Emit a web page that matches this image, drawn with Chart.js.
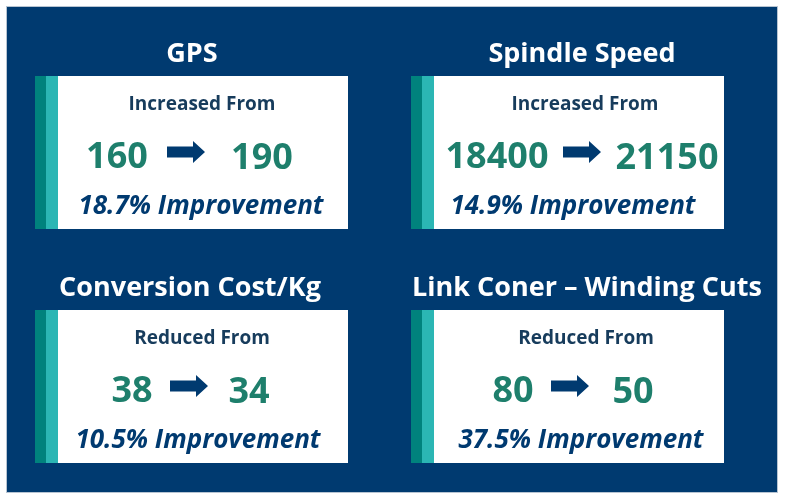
<!DOCTYPE html>
<html>
<head>
<meta charset="utf-8">
<script src="https://cdn.jsdelivr.net/npm/chart.js@4.4.0/dist/chart.umd.min.js"></script>
<style>
  html, body { margin: 0; padding: 0; background: #fff; }
  canvas { display: block; }
</style>
</head>
<body>
<canvas id="kpi" width="785" height="499"></canvas>
<script>
// values
const titles = ['GPS', 'Spindle Speed', 'Conversion Cost/Kg', 'Link Coner \u2013 Winding Cuts'];
const directions = ['Increased From', 'Increased From', 'Reduced From', 'Reduced From'];
const fromValues = [160, 18400, 38, 80];
const toValues = [190, 21150, 34, 50];
const improvements = [18.7, 14.9, 10.5, 37.5];

// card layout (page units), kept apart from the data
const cardBoxes = [
    { left: 35, top: 76 },
    { left: 411, top: 76 },
    { left: 35, top: 310 },
    { left: 411, top: 310 }
];
const cardW = 313, cardH = 153;
// horizontal centres inside each card, offset from card.left
const offsets = [
    { title: 157, sub: 167, from: 82, arrow: 151, to: 227, imp: 166 },
    { title: 171, sub: 174, from: 86, arrow: 171, to: 256, imp: 162 },
    { title: 155, sub: 167, from: 97, arrow: 154, to: 214, imp: 163 },
    { title: 176, sub: 175, from: 102, arrow: 159, to: 222, imp: 170 }
];

const NAVY = '#003a70';
const DARK_TEAL = '#00827d';
const LIGHT_TEAL = '#2bb6b4';
const NUM_GREEN = '#1e7f6c';
const SUB_TEXT = '#173c5c';
const FONT = "'Open Sans', 'Noto Sans', sans-serif";

const cardsPlugin = {
    id: 'cards',
    beforeDraw(chart) {
        const { ctx, scales: { x, y } } = chart;
        const px = v => x.getPixelForValue(v);
        const py = v => y.getPixelForValue(v);

        ctx.save();
        // navy panel
        ctx.fillStyle = NAVY;
        ctx.fillRect(px(7), py(7), px(777) - px(7), py(492) - py(7));
        ctx.strokeStyle = '#b7c4d2';
        ctx.lineWidth = 1;
        ctx.strokeRect(px(6.5), py(6.5), px(777.5) - px(6.5), py(492.5) - py(6.5));

        titles.forEach((title, i) => {
            const L = cardBoxes[i].left, T = cardBoxes[i].top, o = offsets[i];

            // white card + stripes
            ctx.fillStyle = '#ffffff';
            ctx.fillRect(px(L), py(T), px(L + cardW) - px(L), py(T + cardH) - py(T));
            ctx.fillStyle = DARK_TEAL;
            ctx.fillRect(px(L), py(T), px(L + 11) - px(L), py(T + cardH) - py(T));
            ctx.fillStyle = LIGHT_TEAL;
            ctx.fillRect(px(L + 11), py(T), px(L + 23) - px(L + 11), py(T + cardH) - py(T));

            ctx.textAlign = 'center';
            ctx.textBaseline = 'middle';

            // title above the card
            ctx.fillStyle = '#ffffff';
            ctx.font = `bold 27px ${FONT}`;
            ctx.fillText(title, px(L + o.title), py(T - 22));

            ctx.fillStyle = SUB_TEXT;
            ctx.font = `bold 19px ${FONT}`;
            ctx.fillText(directions[i], px(L + o.sub), py(T + 29));

            ctx.fillStyle = NUM_GREEN;
            ctx.font = `bold 36px ${FONT}`;
            ctx.fillText(String(fromValues[i]), px(L + o.from), py(T + 82));
            ctx.fillText(String(toValues[i]), px(L + o.to), py(T + 83));

            // arrow
            const ax = L + o.arrow - 19, ay = T + 76;
            ctx.fillStyle = NAVY;
            ctx.beginPath();
            ctx.moveTo(px(ax), py(ay - 5.5));
            ctx.lineTo(px(ax + 26), py(ay - 5.5));
            ctx.lineTo(px(ax + 26), py(ay - 11));
            ctx.lineTo(px(ax + 38), py(ay));
            ctx.lineTo(px(ax + 26), py(ay + 11));
            ctx.lineTo(px(ax + 26), py(ay + 5.5));
            ctx.lineTo(px(ax), py(ay + 5.5));
            ctx.closePath();
            ctx.fill();

            ctx.fillStyle = NAVY;
            ctx.font = `italic bold 26px ${FONT}`;
            ctx.fillText(improvements[i].toFixed(1) + '% Improvement', px(L + o.imp), py(T + 131));
        });
        ctx.restore();
    }
};

new Chart(document.getElementById('kpi'), {
    type: 'scatter',
    data: { datasets: [{ data: [] }] },
    options: {
        responsive: false,
        animation: false,
        layout: { padding: 0 },
        scales: {
            x: { type: 'linear', min: 0, max: 785, display: false },
            y: { type: 'linear', min: 0, max: 499, reverse: true, display: false }
        },
        plugins: {
            legend: { display: false },
            tooltip: { enabled: false }
        }
    },
    plugins: [cardsPlugin]
});
</script>
</body>
</html>
